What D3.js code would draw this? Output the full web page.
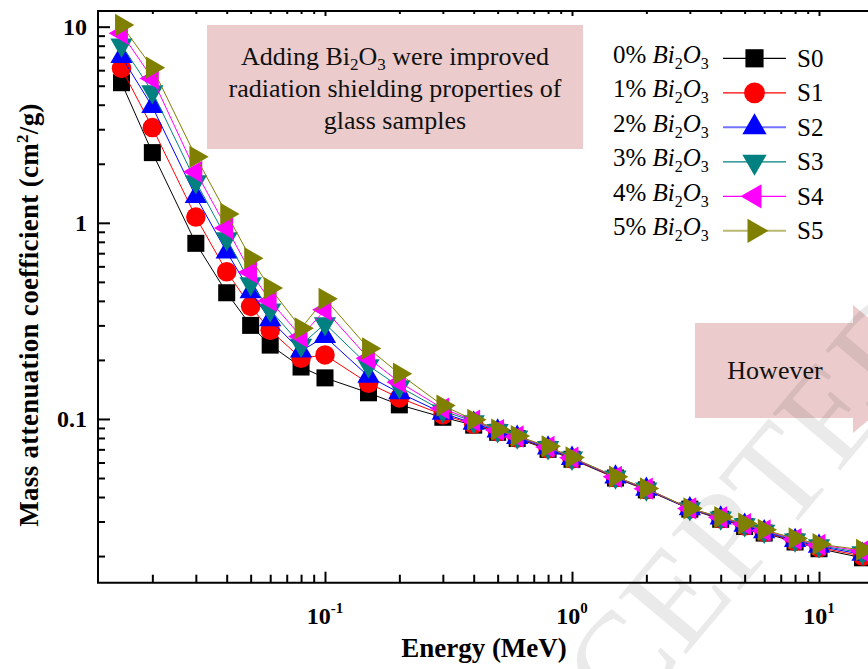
<!DOCTYPE html>
<html><head><meta charset="utf-8">
<script src="https://cdn.jsdelivr.net/npm/d3@7"></script>
<style>body{margin:0;background:#fff}svg{display:block}</style>
</head><body><svg id="c" width="868" height="669"></svg>
<script>
// ---------------- data ----------------
const energies = [0.015, 0.02, 0.03, 0.04, 0.05, 0.06, 0.08, 0.1, 0.15, 0.2, 0.3, 0.4, 0.5, 0.6, 0.8, 1, 1.5, 2, 3, 4, 5, 6, 8, 10, 15];
const seriesNames = ["S0", "S1", "S2", "S3", "S4", "S5"];
const legendPct = ["0%", "1%", "2%", "3%", "4%", "5%"];
const s0 = [5.18, 2.28, 0.786, 0.44, 0.300, 0.238, 0.184, 0.162, 0.136, 0.118, 0.102, 0.093, 0.0855, 0.0795, 0.0700, 0.0623, 0.0500, 0.0435, 0.0347, 0.0308, 0.0283, 0.0262, 0.0236, 0.0218, 0.0196];
const s1 = [6.13, 3.06, 1.07, 0.563, 0.375, 0.283, 0.204, 0.212, 0.152, 0.128, 0.105, 0.094, 0.0862, 0.0800, 0.0705, 0.0626, 0.0503, 0.0437, 0.0348, 0.0310, 0.0285, 0.0264, 0.0238, 0.0221, 0.0200];
const s2 = [7.03, 3.91, 1.36, 0.71, 0.445, 0.320, 0.222, 0.263, 0.165, 0.136, 0.107, 0.095, 0.0868, 0.0805, 0.0710, 0.0629, 0.0505, 0.0438, 0.0348, 0.0312, 0.0287, 0.0266, 0.0240, 0.0224, 0.0204];
const s3 = [8.06, 4.66, 1.62, 0.83, 0.49, 0.360, 0.238, 0.306, 0.187, 0.146, 0.110, 0.097, 0.0873, 0.0810, 0.0715, 0.0632, 0.0506, 0.0440, 0.0349, 0.0313, 0.0289, 0.0268, 0.0242, 0.0226, 0.0208];
const s4 = [9.25, 5.45, 1.82, 0.94, 0.56, 0.400, 0.263, 0.360, 0.204, 0.154, 0.113, 0.098, 0.0878, 0.0814, 0.0720, 0.0635, 0.0507, 0.0441, 0.0350, 0.0315, 0.0291, 0.0270, 0.0244, 0.0228, 0.0212];
const s5 = [10.2, 6.18, 2.17, 1.11, 0.66, 0.465, 0.290, 0.410, 0.229, 0.170, 0.117, 0.099, 0.0882, 0.0818, 0.0725, 0.0637, 0.0508, 0.0442, 0.0350, 0.0316, 0.0293, 0.0272, 0.0246, 0.0230, 0.0215];
const seriesValues = [s0, s1, s2, s3, s4, s5];
const xMajorTicks = [0.1, 1, 10];
const xMajorExp = ["-1", "0", "1"];
const xMinorTicks = [0.02,0.03,0.04,0.05,0.06,0.07,0.08,0.09,0.2,0.3,0.4,0.5,0.6,0.7,0.8,0.9,2,3,4,5,6,7,8,9];
const yMajorTicks = [0.1, 1, 10];
const yMajorLabels = ["0.1", "1", "10"];
const yMinorTicks = [0.02,0.03,0.04,0.05,0.06,0.07,0.08,0.09,0.2,0.3,0.4,0.5,0.6,0.7,0.8,0.9,2,3,4,5,6,7,8,9];

// ---------------- styles ----------------
const colors = ["#000000", "#ff0000", "#0000ff", "#008080", "#ff00ff", "#808000"];
const shapes = [d3.symbolSquare, d3.symbolCircle, d3.symbolTriangle, d3.symbolTriangle, d3.symbolTriangle, d3.symbolTriangle];
const sizes = [290, 300, 215, 215, 215, 215];
const rotations = [0, 0, 0, 180, -90, 90];
const serif = "'Liberation Serif','Times New Roman',serif";

const svg = d3.select("#c");
const L = 98, T = 11, B = 582.7;
const decade = 247;
const x = d3.scaleLog().domain([0.01205, 20]).range([L, L + decade * Math.log10(20 / 0.01205)]);
const y = d3.scaleLog().domain([0.01463, 12.02]).range([B, T]);

// annotation boxes
svg.append("rect").attr("x", 207).attr("y", 25).attr("width", 376).attr("height", 124).attr("fill", "#ebcbcb");
const ann = svg.append("text").attr("font-family", serif).attr("font-size", 26).attr("text-anchor", "middle").attr("fill", "#111");
const l1 = ann.append("tspan").attr("x", 395).attr("y", 65);
l1.append("tspan").text("Adding Bi");
l1.append("tspan").attr("font-size", 17).attr("dy", 5).text("2");
l1.append("tspan").attr("dy", -5).text("O");
l1.append("tspan").attr("font-size", 17).attr("dy", 5).text("3");
l1.append("tspan").attr("dy", -5).text(" were improved");
ann.append("tspan").attr("x", 395).attr("y", 97).text("radiation shielding properties of");
ann.append("tspan").attr("x", 395).attr("y", 129).text("glass samples");

svg.append("path").attr("d", "M695,323 L853,323 L853,305 L930,369 L853,433 L853,418 L695,418 Z").attr("fill", "#ebcbcb");
svg.append("text").attr("x", 775).attr("y", 379).attr("text-anchor", "middle").attr("font-family", serif).attr("font-size", 26).attr("fill", "#111").text("However");

// watermark
svg.append("text").attr("transform", "translate(505,870) rotate(-50)").attr("font-family", serif).attr("font-size", 135)
  .attr("fill", "#000").attr("opacity", 0.08).text("ACCEPTED");

// axes
function styleAxis(g) { g.select(".domain").remove(); g.selectAll("line").attr("stroke", "#000").attr("stroke-width", 2); g.selectAll("text").remove(); }
svg.append("g").attr("transform", `translate(0,${B})`).call(d3.axisBottom(x).tickValues(xMajorTicks).tickSize(-11)).call(styleAxis);
svg.append("g").attr("transform", `translate(0,${B})`).call(d3.axisBottom(x).tickValues(xMinorTicks).tickSize(-8)).call(styleAxis);
svg.append("g").attr("transform", `translate(0,${T})`).call(d3.axisTop(x).tickValues(xMajorTicks).tickSize(-5)).call(styleAxis);
svg.append("g").attr("transform", `translate(0,${T})`).call(d3.axisTop(x).tickValues(xMinorTicks).tickSize(-3)).call(styleAxis);
svg.append("g").attr("transform", `translate(${L},0)`).call(d3.axisLeft(y).tickValues(yMajorTicks).tickSize(-12)).call(styleAxis);
svg.append("g").attr("transform", `translate(${L},0)`).call(d3.axisLeft(y).tickValues(yMinorTicks).tickSize(-7)).call(styleAxis);

// frame
svg.append("path").attr("d", `M900,${T} L${L},${T} L${L},${B} L900,${B}`).attr("fill", "none").attr("stroke", "#000").attr("stroke-width", 2);

// tick labels
yMajorTicks.forEach((v, i) => {
  svg.append("text").attr("x", 87).attr("y", y(v) + 8).attr("text-anchor", "end").attr("font-family", serif)
    .attr("font-weight", "bold").attr("font-size", 24).text(yMajorLabels[i]);
});
xMajorTicks.forEach((v, i) => {
  const t = svg.append("text").attr("x", x(v)).attr("y", 624).attr("text-anchor", "middle").attr("font-family", serif)
    .attr("font-weight", "bold").attr("font-size", 24);
  t.append("tspan").text("10");
  t.append("tspan").attr("font-size", 15).attr("dy", -11).text(xMajorExp[i]);
});

// axis titles
svg.append("text").attr("x", 484).attr("y", 657).attr("text-anchor", "middle").attr("font-family", serif)
  .attr("font-weight", "bold").attr("font-size", 27).text("Energy (MeV)");
const yt = svg.append("text").attr("transform", "translate(38,315) rotate(-90)").attr("text-anchor", "middle")
  .attr("font-family", serif).attr("font-weight", "bold").attr("font-size", 27).attr("letter-spacing", 0.3);
yt.append("tspan").text("Mass attenuation coefficient (cm");
yt.append("tspan").attr("font-size", 17).attr("dy", -10).text("2");
yt.append("tspan").attr("dy", 10).text("/g)");

// data
const line = d3.line().x(d => x(d[0])).y(d => y(d[1]));
seriesValues.forEach((vals, i) => {
  const pts = energies.map((e, j) => [e, vals[j]]);
  const g = svg.append("g");
  g.append("path").attr("d", line(pts)).attr("fill", "none").attr("stroke", colors[i]).attr("stroke-width", 1);
  const sym = d3.symbol().type(shapes[i]).size(sizes[i]);
  g.selectAll("path.m").data(pts).join("path").attr("class", "m")
    .attr("transform", d => `translate(${x(d[0])},${y(d[1])}) rotate(${rotations[i]})`)
    .attr("d", sym).attr("fill", colors[i]);
});

// legend
seriesNames.forEach((name, i) => {
  const cy = 58.3 + i * 34.5;
  const g = svg.append("g");
  const t = g.append("text").attr("x", 613).attr("y", cy + 4.5).attr("font-family", serif).attr("font-size", 25);
  t.append("tspan").text(legendPct[i] + " ");
  t.append("tspan").attr("font-style", "italic").text("Bi");
  t.append("tspan").attr("font-size", 16).attr("dy", 6).text("2");
  t.append("tspan").attr("font-style", "italic").attr("dy", -6).text("O");
  t.append("tspan").attr("font-size", 16).attr("dy", 6).text("3");
  g.append("line").attr("x1", 723).attr("x2", 786).attr("y1", cy).attr("y2", cy).attr("stroke", colors[i]).attr("stroke-width", i === 2 || i === 5 ? 2 : 1.2).attr("stroke-opacity", i === 2 || i === 5 ? 0.55 : 1);
  g.append("path").attr("transform", `translate(754.5,${cy}) rotate(${rotations[i]})`)
    .attr("d", d3.symbol().type(shapes[i]).size(sizes[i] + 40)).attr("fill", colors[i]);
  g.append("text").attr("x", 797).attr("y", cy + 8.5).attr("font-family", serif).attr("font-size", 25).text(name);
});
</script></body></html>
